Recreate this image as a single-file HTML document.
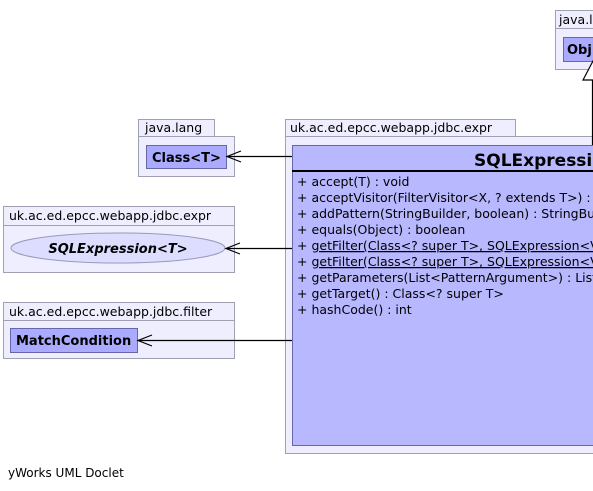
<!DOCTYPE html>
<html><head><style>body{margin:0;background:#fff}svg{display:block}text{font-family:"DejaVu Sans","Liberation Sans",sans-serif}</style></head><body>
<svg width="593" height="491" viewBox="0 0 593 491" xmlns="http://www.w3.org/2000/svg">
<g fill="#eeeeff" stroke="#a0a0b4" stroke-width="1">
<rect x="555.5" y="10.5" width="50" height="18"/><rect x="555.5" y="28.5" width="50" height="41"/>
<rect x="138.5" y="119.5" width="76" height="17"/><rect x="138.5" y="136.5" width="96" height="40"/>
<rect x="3.5" y="206.5" width="231" height="19"/><rect x="3.5" y="225.5" width="231" height="47"/>
<rect x="3.5" y="302.5" width="231" height="18"/><rect x="3.5" y="320.5" width="231" height="38"/>
<rect x="285.5" y="119.5" width="230" height="17"/><rect x="285.5" y="136.5" width="320" height="317"/>
</g>
<g font-size="12.5" fill="#000">
<text x="559" y="24">java.lang</text>
<text x="145" y="132">java.lang</text>
<text x="9" y="220">uk.ac.ed.epcc.webapp.jdbc.expr</text>
<text x="9" y="316">uk.ac.ed.epcc.webapp.jdbc.filter</text>
<text x="290" y="132">uk.ac.ed.epcc.webapp.jdbc.expr</text>
</g>
<g fill="#aaaaff" stroke="#6666aa">
<rect x="563.5" y="37.5" width="40" height="24"/>
<rect x="146.5" y="145.5" width="80" height="23"/>
<rect x="10.5" y="328.5" width="127" height="24"/>
<rect x="292.5" y="145.5" width="310" height="300" fill="#b8b8ff"/>
</g>
<ellipse cx="118" cy="248" rx="107" ry="15" fill="#ddddff" stroke="#9999bb"/>
<g font-weight="bold" font-size="13">
<text x="567" y="54">Obj</text>
<text x="152" y="162">Class&lt;T&gt;</text>
<text x="16" y="345">MatchCondition</text>
<text x="118" y="253" text-anchor="middle" font-style="italic">SQLExpression&lt;T&gt;</text>
<text x="474" y="166" font-size="17">SQLExpressio</text>
</g>
<line x1="292" y1="171" x2="593" y2="171" stroke="#000" stroke-width="2"/>
<g font-size="12.5" fill="#000">
<text x="297" y="186">+  accept(T) : void</text>
<text x="297" y="202">+  acceptVisitor(FilterVisitor&lt;X, ? extends T&gt;) : &lt;</text>
<text x="297" y="218">+  addPattern(StringBuilder, boolean) : StringBu</text>
<text x="297" y="234">+  equals(Object) : boolean</text>
<text x="297" y="250">+  <tspan text-decoration="underline">getFilter(Class&lt;? super T&gt;, SQLExpression&lt;V</tspan></text>
<text x="297" y="266">+  <tspan text-decoration="underline">getFilter(Class&lt;? super T&gt;, SQLExpression&lt;V</tspan></text>
<text x="297" y="282">+  getParameters(List&lt;PatternArgument&gt;) : List</text>
<text x="297" y="298">+  getTarget() : Class&lt;? super T&gt;</text>
<text x="297" y="314">+  hashCode() : int</text>
</g>
<g stroke="#000" fill="none" stroke-width="1.2">
<line x1="227" y1="156.5" x2="292" y2="156.5"/><polyline points="241,151 227,156.5 241,162"/>
<line x1="226" y1="248.5" x2="292" y2="248.5"/><polyline points="240,243 226,248.5 240,254"/>
<line x1="138" y1="340.5" x2="292" y2="340.5"/><polyline points="152,335 138,340.5 152,346"/>
<line x1="592.5" y1="80" x2="592.5" y2="145"/>
<polygon points="593,61 583,80 600,80" fill="#fff"/>
</g>
<text x="8" y="477" font-size="12">yWorks UML Doclet</text>
</svg>
</body></html>
